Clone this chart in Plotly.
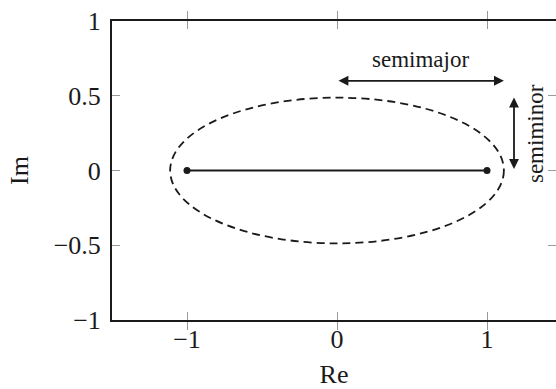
import plotly.graph_objects as go

# Data
foci_x = [-1.0, 1.0]
foci_y = [0.0, 0.0]
semimajor = 1.1125
semiminor = 0.4875
x_ticks = [-1, 0, 1]
x_tick_labels = ["−1", "0", "1"]
y_ticks = [-1, -0.5, 0, 0.5, 1]
y_tick_labels = ["−1", "−0.5", "0", "0.5", "1"]
arrow_major_y = 0.6
arrow_minor_x = 1.18

FONT = "Liberation Serif"
INK = "#1a1a1a"

fig = go.Figure()

fig.add_trace(go.Scatter(
    x=foci_x, y=foci_y, mode="lines+markers",
    line=dict(color=INK, width=1.8),
    marker=dict(color=INK, size=7),
    hoverinfo="skip", showlegend=False,
))
# invisible trace so the right-hand tick axis is drawn
fig.add_trace(go.Scatter(
    x=[0], y=[0], yaxis="y2", mode="markers",
    marker=dict(opacity=0), hoverinfo="skip", showlegend=False,
))

# ellipse
fig.add_shape(type="circle", xref="x", yref="y",
              x0=-semimajor, x1=semimajor, y0=-semiminor, y1=semiminor,
              line=dict(color=INK, width=1.8, dash="8px,5px"))

# semimajor arrow
fig.add_annotation(x=semimajor, y=arrow_major_y, ax=0, ay=arrow_major_y,
                   xref="x", yref="y", axref="x", ayref="y",
                   text="", showarrow=True, arrowside="end+start",
                   arrowhead=2, arrowsize=1.1, arrowwidth=1.8, arrowcolor=INK,
                   standoff=0, startstandoff=0)
fig.add_annotation(x=semimajor / 2, y=arrow_major_y, xref="x", yref="y",
                   text="semimajor", showarrow=False, yshift=21,
                   font=dict(family=FONT, size=23, color=INK))

# semiminor arrow
fig.add_annotation(x=arrow_minor_x, y=semiminor, ax=arrow_minor_x, ay=0,
                   xref="x", yref="y", axref="x", ayref="y",
                   text="", showarrow=True, arrowside="end+start",
                   arrowhead=2, arrowsize=1.1, arrowwidth=1.8, arrowcolor=INK,
                   standoff=0, startstandoff=0)
fig.add_annotation(x=arrow_minor_x, y=semiminor / 2, xref="x", yref="y",
                   text="semiminor", showarrow=False, xshift=21, textangle=-90,
                   font=dict(family=FONT, size=23, color=INK))

fig.update_layout(
    width=556, height=389,
    margin=dict(l=112, r=0, t=21, b=69),
    paper_bgcolor="white", plot_bgcolor="white",
    font=dict(family=FONT, size=26, color=INK),
    xaxis=dict(
        range=[-1.5, 1.46], tickvals=x_ticks, ticktext=x_tick_labels,
        showgrid=False, zeroline=False,
        showline=True, linecolor=INK, linewidth=2, mirror="allticks",
        ticks="inside", ticklen=8, tickwidth=1, tickcolor="#999",
        ticklabelstandoff=-5,
        title=dict(text="Re", standoff=17, font=dict(size=26)),
        tickfont=dict(size=26),
    ),
    yaxis=dict(
        range=[-1, 1], tickvals=y_ticks, ticktext=y_tick_labels,
        showgrid=False, zeroline=False,
        showline=True, linecolor=INK, linewidth=2,
        ticks="inside", ticklen=8, tickwidth=1, tickcolor="#999",
        ticklabelstandoff=4,
        title=dict(text="Im", standoff=18, font=dict(size=26)),
        tickfont=dict(size=26),
    ),
    yaxis2=dict(
        range=[-1, 1], tickvals=y_ticks, overlaying="y", side="right",
        showgrid=False, zeroline=False, showline=False,
        ticks="inside", ticklen=8, tickwidth=1, tickcolor="#999",
        showticklabels=False,
    ),
)

fig.write_html("out.html")
